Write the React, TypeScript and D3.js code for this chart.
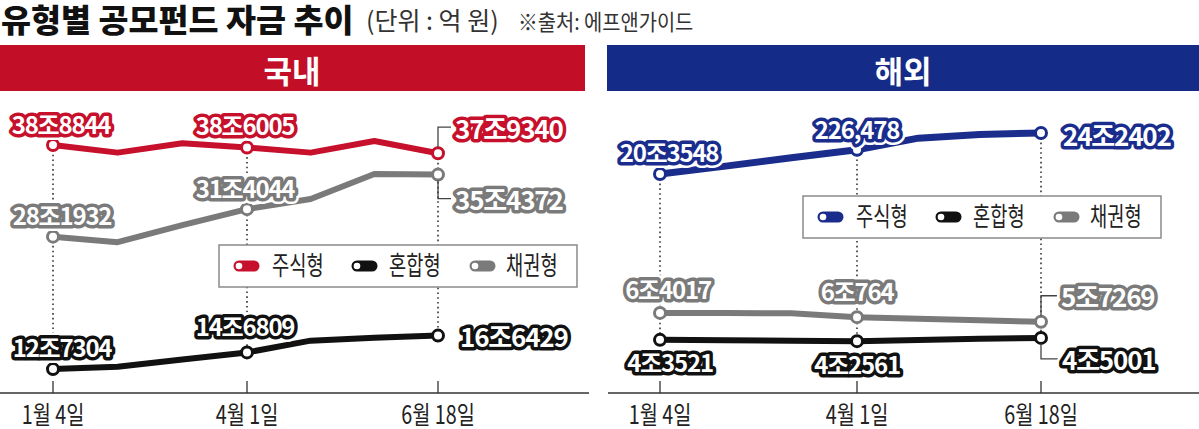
import React from "react";
import * as d3 from "d3";

// ---- data (억 원) ----
const periods = [0, 1, 2, 3, 4, 5, 6]; // observation points, 1/4 ... 6/18
const labeledIdx = [0, 3, 6];
const dateLabels = ["1월 4일", "4월 1일", "6월 18일"];
const seriesNames = ["주식형", "혼합형", "채권형"];

const domStock = [388844, 380000, 391000, 386005, 380000, 393500, 379340];
const domMixed = [127304, 130000, 138500, 146809, 160500, 164000, 166429];
const domBond = [281932, 275500, 295400, 314044, 325800, 355000, 354372];
const domStockLabels = ["38조8844", "38조6005", "37조9340"];
const domMixedLabels = ["12조7304", "14조6809", "16조6429"];
const domBondLabels = ["28조1932", "31조4044", "35조4372"];

const ovsStock = [203548, 211000, 219000, 226478, 237500, 241000, 242402];
const ovsMixed = [43521, 43300, 42900, 42561, 43500, 44400, 45001];
const ovsBond = [64017, 63900, 63700, 60764, 59500, 58400, 57269];
const ovsStockLabels = ["20조3548", "226,478", "24조2402"];
const ovsMixedLabels = ["4조3521", "4조2561", "4조5001"];
const ovsBondLabels = ["6조4017", "6조764", "5조7269"];

// ---- styles ----
const FONT = "'Noto Sans CJK KR', 'Noto Sans', sans-serif";
const RED = "#c6102c";
const BLUE = "#1a2d8c";
const GRAY = "#7a7a7a";
const BLACK = "#111111";

type LabelPos = { dx: number; dy: number; end?: boolean; leader?: boolean };

const Label = ({ x, y, text, color, anchor, size }: any) => (
  <g fontFamily={FONT} fontSize={size} fontWeight={700} letterSpacing={-1.2}>
    <text x={x} y={y} textAnchor={anchor} dominantBaseline="central" fill="#fff" stroke="#fff" strokeWidth={12} strokeLinejoin="round">{text}</text>
    <text x={x} y={y} textAnchor={anchor} dominantBaseline="central" fill="#fff" stroke={color} strokeWidth={7} strokeLinejoin="round" style={{ paintOrder: "stroke" }}>{text}</text>
  </g>
);

const Marker = ({ x, y, color }: any) => (
  <g>
    <line x1={x + 6} x2={x + 21} y1={y} y2={y} stroke={color} strokeWidth={11} strokeLinecap="round" />
    <circle cx={x + 6} cy={y} r={3.3} fill="#fff" />
  </g>
);

// condensed text through a horizontal scale
const CText = ({ x, y, sx, children, anchor, ...rest }: any) => (
  <text transform={`translate(${x},${y}) scale(${sx},1)`} x={0} y={0} textAnchor={anchor || "start"} fontFamily={FONT} {...rest}>{children}</text>
);

const Panel = ({ x, y, series, legendX, legendY }: any) => {
  const line = d3.line<number>().x((_, i) => x(periods[i])).y((v) => y(v));
  const sorted = [...series].sort((a: any, b: any) => y(a.values[0]) - y(b.values[0]));
  const top = sorted[0];
  const bottom = sorted[sorted.length - 1];
  return (
    <g>
      {labeledIdx.map((idx) => (
        <line key={"d" + idx} x1={x(idx)} x2={x(idx)} y1={y(top.values[idx])} y2={y(bottom.values[idx])} stroke="#333" strokeWidth={1.6} strokeDasharray="1.6 3.2" />
      ))}
      {series.map((s: any) => (
        <path key={s.name} d={line(s.values) || ""} fill="none" stroke={s.color} strokeWidth={s.width} strokeLinejoin="round" strokeLinecap="round" />
      ))}
      {series.map((s: any) =>
        labeledIdx.map((idx) => (
          <circle key={s.name + idx} cx={x(idx)} cy={y(s.values[idx])} r={5.5} fill="#fff" stroke={s.color} strokeWidth={3} />
        ))
      )}
      {series.map((s: any) =>
        labeledIdx.map((idx, k) => {
          const p: LabelPos = s.pos[k];
          const px = x(idx);
          const py = y(s.values[idx]);
          const lx = px + p.dx;
          const ly = py + p.dy;
          return (
            <g key={"l" + s.name + idx}>
              {p.leader && (
                <path d={`M${px},${py + (p.dy < 0 ? -5.5 : 5.5)}V${ly}H${lx - 4}`} fill="none" stroke="#444" strokeWidth={1.3} />
              )}
              <Label x={lx} y={ly} text={s.labels[k]} color={s.color} anchor={p.end ? "start" : "middle"} size={p.end ? 26 : 24} />
            </g>
          );
        })
      )}
      <rect x={legendX} y={legendY - 21} width={358} height={42} fill="#fff" stroke="#8a8a8a" strokeWidth={1.5} />
      {series.map((s: any, i: number) => (
        <g key={"lg" + i}>
          <Marker x={legendX + 14 + i * 118} y={legendY} color={s.color} />
          <CText x={legendX + 53 + i * 117} y={legendY + 9} sx={0.72} fontSize={26} fill="#222">{seriesNames[i]}</CText>
        </g>
      ))}
      {labeledIdx.map((idx, k) => (
        <g key={"t" + idx}>
          <line x1={x(idx)} x2={x(idx)} y1={381} y2={393} stroke="#333" strokeWidth={1.3} />
          <CText x={x(idx)} y={423.5} sx={0.79} anchor="middle" fontSize={25} fill="#222">{dateLabels[k]}</CText>
        </g>
      ))}
    </g>
  );
};

export default function App() {
  const xDom = d3.scaleLinear().domain([0, 3, 6]).range([53, 247, 438]);
  const xOvs = d3.scaleLinear().domain([0, 3, 6]).range([660, 857, 1041]);
  const yDom = d3.scaleLinear().domain([100000, 400000]).range([392.5, 135.5]);
  const yOvs = d3.scaleLinear().domain([40000, 70000, 200000, 250000]).range([344.5, 305, 177.7, 125]);

  const domSeries = [
    { name: "stock", values: domStock, labels: domStockLabels, color: RED, width: 6, pos: [{ dx: 8, dy: -22 }, { dx: -2, dy: -23 }, { dx: 17, dy: -26, end: true, leader: true }] },
    { name: "mixed", values: domMixed, labels: domMixedLabels, color: BLACK, width: 6, pos: [{ dx: 9, dy: -23 }, { dx: -2, dy: -27 }, { dx: 22, dy: 0, end: true }] },
    { name: "bond", values: domBond, labels: domBondLabels, color: GRAY, width: 6, pos: [{ dx: 9, dy: -22 }, { dx: -2, dy: -22 }, { dx: 17, dy: 24, end: true, leader: true }] },
  ];
  const ovsSeries = [
    { name: "stock", values: ovsStock, labels: ovsStockLabels, color: BLUE, width: 7, pos: [{ dx: 9, dy: -22 }, { dx: 0, dy: -21 }, { dx: 22, dy: 1, end: true }] },
    { name: "mixed", values: ovsMixed, labels: ovsMixedLabels, color: BLACK, width: 6, pos: [{ dx: 10, dy: 22 }, { dx: 0, dy: 22 }, { dx: 21, dy: 21, end: true, leader: true }] },
    { name: "bond", values: ovsBond, labels: ovsBondLabels, color: GRAY, width: 6, pos: [{ dx: 8, dy: -24 }, { dx: 0, dy: -27 }, { dx: 20, dy: -26, end: true, leader: true }] },
  ];

  return (
    <svg width={1199} height={429} style={{ position: "absolute", left: 0, top: 0, background: "#fff" }}>
      <rect width={1199} height={429} fill="#fff" />
      <CText x={1} y={32} sx={1.02} fontSize={32} fontWeight={900} fill="#111">유형별 공모펀드 자금 추이</CText>
      <text x={366} y={30} fontFamily={FONT} fontSize={25} fill="#333">(단위 : 억 원)</text>
      <CText x={518} y={30} sx={0.9} fontSize={22} fill="#333">※출처: 에프앤가이드</CText>

      <rect x={0} y={45} width={585} height={46} fill="#c20f27" />
      <text x={292} y={69} textAnchor="middle" dominantBaseline="central" fontFamily={FONT} fontSize={31} fontWeight={700} fill="#fff">국내</text>
      <rect x={607} y={45} width={592} height={46} fill="#152b88" />
      <text x={903} y={69} textAnchor="middle" dominantBaseline="central" fontFamily={FONT} fontSize={31} fontWeight={700} fill="#fff">해외</text>

      <line x1={0} x2={589} y1={393} y2={393} stroke="#333" strokeWidth={1.5} />
      <line x1={608} x2={1199} y1={393} y2={393} stroke="#333" strokeWidth={1.5} />

      <Panel x={xDom} y={yDom} series={domSeries} legendX={219} legendY={266} />
      <Panel x={xOvs} y={yOvs} series={ovsSeries} legendX={803} legendY={217} />
    </svg>
  );
}
